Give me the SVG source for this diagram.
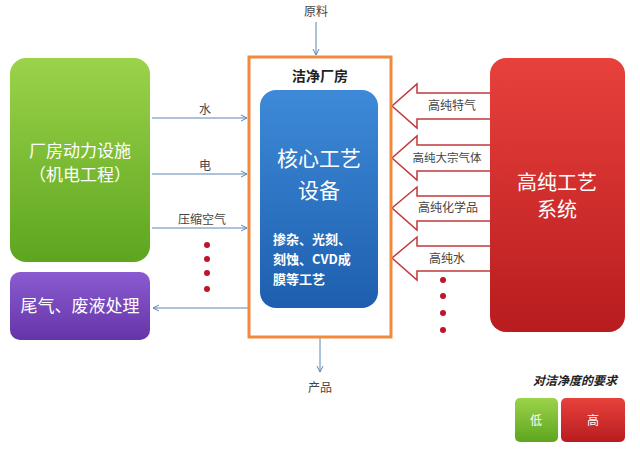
<svg xmlns="http://www.w3.org/2000/svg" width="640" height="453" viewBox="0 0 640 453">
<defs>
<style>
.t{font-family:"Noto Sans CJK SC","Liberation Serif",serif;}
.ln{stroke:#5b86b8;stroke-width:1;fill:none}
.ra{fill:#fff;stroke:#c0393b;stroke-width:1.5}
</style>
<marker id="a" markerWidth="8" markerHeight="8" refX="7" refY="4" orient="auto"><path d="M1,1 L7,4 L1,7" fill="none" stroke="#5b86b8"/></marker>
<linearGradient id="g" x1="0" y1="0" x2="0" y2="1"><stop offset="0" stop-color="#9bd34a"/><stop offset="1" stop-color="#5ea51f"/></linearGradient>
<linearGradient id="r" x1="0" y1="0" x2="0" y2="1"><stop offset="0" stop-color="#e8413c"/><stop offset="1" stop-color="#b81c1f"/></linearGradient>
<linearGradient id="b" x1="0" y1="0" x2="0" y2="1"><stop offset="0" stop-color="#3e8ad8"/><stop offset="1" stop-color="#1d5fae"/></linearGradient>
<linearGradient id="p" x1="0" y1="0" x2="0" y2="1"><stop offset="0" stop-color="#8a5ad0"/><stop offset="1" stop-color="#6535a8"/></linearGradient>
</defs>
<rect width="640" height="453" fill="#fff"/>
<g id="connectors">
<line class="ln" x1="316" y1="22" x2="316" y2="55" marker-end="url(#a)"/>
<line class="ln" x1="320" y1="338" x2="320" y2="372" marker-end="url(#a)"/>
<line class="ln" x1="152" y1="118" x2="247" y2="118" marker-end="url(#a)"/>
<line class="ln" x1="152" y1="174" x2="247" y2="174" marker-end="url(#a)"/>
<line class="ln" x1="152" y1="228" x2="247" y2="228" marker-end="url(#a)"/>
<line class="ln" x1="248" y1="308" x2="153" y2="308" marker-end="url(#a)"/>
<g fill="#c0142a"><circle cx="207" cy="245" r="3"/><circle cx="207" cy="259" r="3"/><circle cx="207" cy="273" r="3"/><circle cx="207" cy="289" r="3"/>
<circle cx="443" cy="280" r="3"/><circle cx="443" cy="296" r="3"/><circle cx="443" cy="313" r="3"/><circle cx="443" cy="330" r="3"/></g>
<path class="ra" d="M492,93 H417 V84 L392,106 L417,128 V119 H492"/>
<path class="ra" d="M492,145 H417 V136 L392,158 L417,180 V171 H492"/>
<path class="ra" d="M492,196 H417 V187 L392,208 L417,230 V221 H492"/>
<path class="ra" d="M492,246 H417 V237 L392,258 L417,280 V271 H492"/>
<g class="t" font-size="12" fill="#444">
<text x="316" y="16" text-anchor="middle">原料</text>
<text x="320" y="392" text-anchor="middle">产品</text>
<text x="205" y="114" text-anchor="middle">水</text>
<text x="205" y="170" text-anchor="middle">电</text>
<text x="202" y="224" text-anchor="middle">压缩空气</text>
<text x="452" y="110" text-anchor="middle">高纯特气</text>
<text x="447" y="162" text-anchor="middle" font-size="11.5">高纯大宗气体</text>
<text x="448" y="212" text-anchor="middle">高纯化学品</text>
<text x="447" y="263" text-anchor="middle">高纯水</text>
</g>
</g>
<g id="cleanroom"><rect x="249" y="57" width="142" height="280" fill="none" stroke="#f08a3c" stroke-width="3"/>
<text class="t" x="320" y="81" text-anchor="middle" font-size="14" font-weight="bold" fill="#222">洁净厂房</text></g>
<g id="core"><rect x="260" y="90" width="118" height="218" rx="16" fill="url(#b)"/>
<text class="t" x="319" y="166" text-anchor="middle" font-size="21" fill="#fff">核心工艺</text>
<text class="t" x="319" y="198" text-anchor="middle" font-size="21" fill="#fff">设备</text>
<g class="t" font-size="13" font-weight="bold" fill="#fff"><text x="273" y="244">掺杂、光刻、</text><text x="273" y="264">刻蚀、CVD成</text><text x="273" y="284">膜等工艺</text></g></g>
<g id="facility"><rect x="10" y="58" width="140" height="204" rx="16" fill="url(#g)"/>
<text class="t" x="80" y="157" text-anchor="middle" font-size="17" fill="#fff">厂房动力设施</text>
<text class="t" x="80" y="181" text-anchor="middle" font-size="17" fill="#fff">（机电工程）</text></g>
<g id="waste"><rect x="10" y="272" width="140" height="68" rx="10" fill="url(#p)"/>
<text class="t" x="80" y="312" text-anchor="middle" font-size="17" fill="#fff">尾气、废液处理</text></g>
<g id="purity"><rect x="490" y="58" width="135" height="274" rx="16" fill="url(#r)"/>
<text class="t" x="557" y="190" text-anchor="middle" font-size="20" fill="#fff">高纯工艺</text>
<text class="t" x="557" y="217" text-anchor="middle" font-size="20" fill="#fff">系统</text></g>
<g id="legend">
<text class="t" x="575" y="385" text-anchor="middle" font-size="12" font-style="italic" font-weight="bold" fill="#222">对洁净度的要求</text>
<rect x="515" y="398" width="43" height="44" rx="5" fill="url(#g)"/>
<rect x="561" y="398" width="64" height="44" rx="5" fill="url(#r)"/>
<text class="t" x="536" y="425" text-anchor="middle" font-size="12" fill="#fff">低</text>
<text class="t" x="593" y="425" text-anchor="middle" font-size="12" fill="#fff">高</text></g>
</svg>
